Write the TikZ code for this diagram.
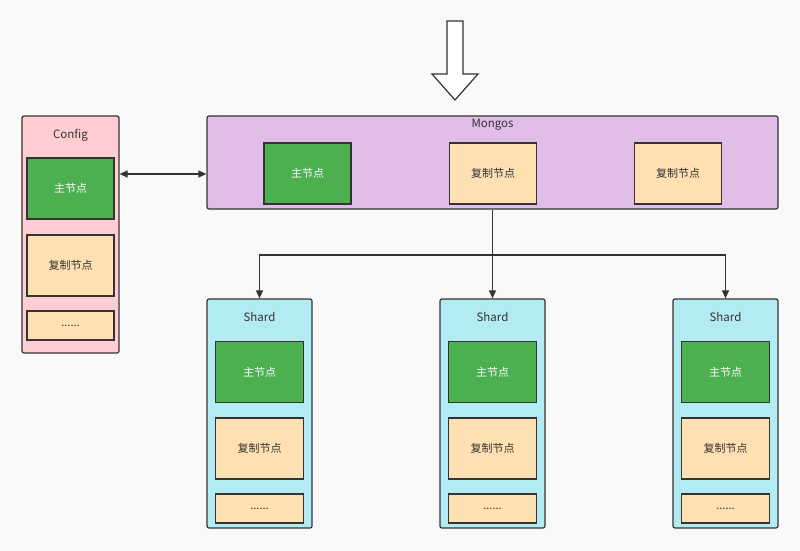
\documentclass[tikz,border=0pt]{standalone}
\usepackage{fontspec}
\setmainfont{Noto Sans CJK SC}
\usetikzlibrary{arrows.meta}

\definecolor{fundo}{HTML}{F9F9F9}
\definecolor{rosa}{HTML}{FFCDD2}
\definecolor{lilas}{HTML}{E1BEE7}
\definecolor{ciano}{HTML}{B2EBF2}
\definecolor{verde}{HTML}{4CAF50}
\definecolor{bege}{HTML}{FFE0B2}
\definecolor{borda}{HTML}{333333}

\tikzset{
  grupo/.style={draw=borda, line width=1.2pt, rounded corners=2pt, inner sep=0pt},
  primario/.style={draw=borda, fill=verde, line width=1.2pt, inner sep=0pt,
    minimum width=87pt, minimum height=61pt, text=white, font=\fontsize{11}{13}\selectfont},
  replica/.style={draw=borda, fill=bege, line width=1.2pt, inner sep=0pt,
    minimum width=87pt, minimum height=61pt, text=borda, font=\fontsize{11}{13}\selectfont},
  resto/.style={replica, minimum height=29pt},
  titulo/.style={text=borda, font=\fontsize{11.5}{13}\selectfont},
  liga/.style={draw=borda, line width=1.2pt, -{Triangle[length=8pt, width=7pt]}}
}

\begin{document}
\begin{tikzpicture}[x=1pt, y=-1pt]

% Fundo
\fill[fundo] (0, 0) rectangle (800, 551);

% Seta de entrada
\draw[draw=borda, fill=white, line width=1.2pt]
  (447, 21) -- (463, 21) -- (463, 74) -- (478, 74) -- (455, 100)
  -- (432, 74) -- (447, 74) -- cycle;

% Config
\node[grupo, fill=rosa, minimum width=97pt, minimum height=237pt] (cfg) at (70.5, 234.5) {};
\node[titulo] at (70.5, 135) {Config};
\node[primario] (cfgp) at (70.5, 188.5) {主节点};
\node[replica] (cfgr) at (70.5, 265.5) {复制节点};
\node[resto] (cfgd) at (70.5, 325.5) {......};

% Mongos
\node[grupo, fill=lilas, minimum width=571pt, minimum height=93pt] (mongos) at (492.5, 162.5) {};
\node[titulo] at (492.5, 125) {Mongos};
\node[primario] (mp) at (307.5, 173.5) {主节点};
\node[replica] (mr1) at (493, 173.5) {复制节点};
\node[replica] (mr2) at (678, 173.5) {复制节点};

% Shards
\foreach \i/\x in {1/259.5, 2/492.5, 3/725.5} {
  \node[grupo, fill=ciano, minimum width=105pt, minimum height=229pt] (s\i) at (\x, 413.5) {};
  \node[titulo] at (\x, 317) {Shard};
  \node[primario, minimum width=88pt] (s\i p) at (\x, 372) {主节点};
  \node[replica, minimum width=88pt] (s\i r) at (\x, 448.5) {复制节点};
  \node[resto, minimum width=88pt] (s\i d) at (\x, 508.5) {......};
}

% Ligacoes
\coordinate (lnk) at (0, 174);
\coordinate (bus) at (492.5, 255);
\draw[liga, {Triangle[length=8pt, width=7pt]}-{Triangle[length=8pt, width=7pt]}]
  (cfg.east |- lnk) -- (mongos.west |- lnk);
\draw[draw=borda, line width=1.2pt] (mongos.south) -- (bus);
\draw[liga] (bus) -| (s1.north);
\draw[liga] (bus) -- (s2.north);
\draw[liga] (bus) -| (s3.north);

\end{tikzpicture}
\end{document}
